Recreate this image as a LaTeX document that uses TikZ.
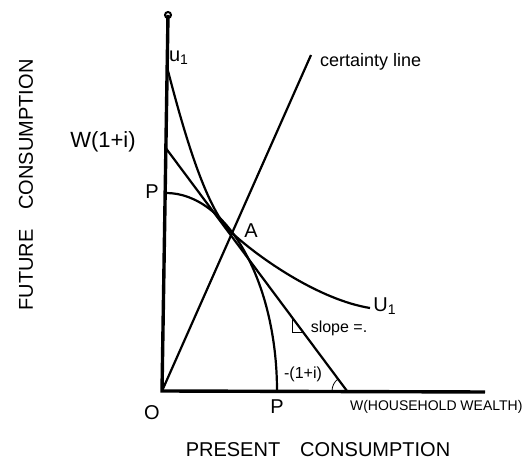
\documentclass[tikz,border=0pt]{standalone}
\usepackage{fontspec}
\setmainfont{Liberation Sans}
\usetikzlibrary{angles}
\tikzset{curve/.style={line width=1.1pt}}
\begin{document}
\begin{tikzpicture}[x=0.5pt,y=-0.5pt,font=\fontsize{10}{12}\selectfont]
  \useasboundingbox (0,0) rectangle (531,459);
  \coordinate (O) at (162,391);
  \coordinate (T) at (168,15);
  \coordinate (X) at (485,392);
  \coordinate (W1) at (165,147);
  \coordinate (P1) at (166,193);
  \coordinate (P2) at (277,391);
  \coordinate (W2) at (347,391);
  \coordinate (C) at (311,55);
  \coordinate (A) at (231,232);
  \coordinate (U0) at (167,67);
  \coordinate (U2) at (370,308);
  \draw[line width=1.7pt] (T) -- (O) -- (X);
  \draw[line width=1pt] (T) circle (3);
  \draw[curve] (O) -- (C);
  \draw[curve] (W1) -- (W2);
  \draw[curve] (P1) .. controls (227,193) and (277,282) .. (P2);
  \draw[curve] (U0) .. controls (182,125) and (205,208) .. (A)
    .. controls (260,259) and (320,300) .. (U2);
  \draw[thin] (292,318) -- (292,332) -- (303,332);
  \draw[thin] pic[draw, angle radius=7.5pt] {angle=W1--W2--O};
  \node (u) at (179,58) {u\textsubscript{1}};
  \node[font=\fontsize{11}{13}\selectfont] (w) at (103,142) {W(1+i)};
  \node (p1) at (152,192) {P};
  \node (a) at (251,231) {A};
  \node[anchor=west, font=\fontsize{9}{11}\selectfont] (cert) at (313,62) {certainty line};
  \node (u1) at (385,306) {U\textsubscript{1}};
  \node[font=\fontsize{8}{10}\selectfont] (slope) at (339,328) {slope =.};
  \node[font=\fontsize{8}{10}\selectfont] (rate) at (303,374) {-(1+i)};
  \node (o) at (152,413) {O};
  \node (p2) at (277,407) {P};
  \node[anchor=west, font=\fontsize{7}{9}\selectfont] (wealth) at (343,407) {W(HOUSEHOLD WEALTH)};
  \node (pres) at (318,450) {PRESENT\quad CONSUMPTION};
  \node[rotate=90] (fut) at (26,185) {FUTURE\quad CONSUMPTION};
\end{tikzpicture}
\end{document}
